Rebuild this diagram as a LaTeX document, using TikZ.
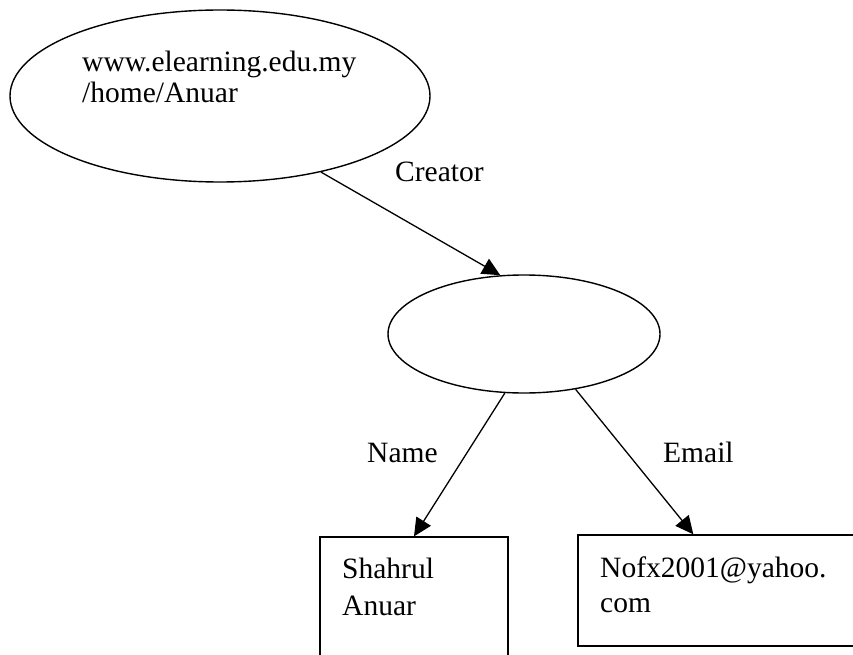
\documentclass[tikz,border=0pt]{standalone}
\usepackage{fontspec}
\setmainfont{Liberation Serif}
\usetikzlibrary{arrows.meta,shapes.geometric}

\begin{document}
\begin{tikzpicture}[
    x=1pt, y=-1pt,
    oval/.style={ellipse, draw=black, line width=1.4pt, inner sep=0pt},
    cell/.style={rectangle, draw=black, line width=1.3pt, inner sep=0pt},
    txt/.style={inner sep=0pt, align=left, font=\fontsize{29.5}{30.5}\selectfont},
    arrow/.style={line width=1.3pt, -{Triangle[length=18pt,width=17pt]}}
]
\clip (0,0) rectangle (853,655);

% Resource and blank node
\node[oval, minimum width=420pt, minimum height=172pt] (site) at (220,96) {};
\node[txt, anchor=base west] (sitetext) at (82,102.5) {www.elearning.edu.my\\/home/Anuar};
\node[oval, minimum width=272pt, minimum height=118pt] (blank) at (524,334) {};

% Literal values
\node[cell, minimum width=188pt, minimum height=143pt] (person) at (414,608.5) {};
\node[txt, anchor=base west, font=\fontsize{29.5}{37}\selectfont] (persontext) at (342,615) {Shahrul\\Anuar};
\node[cell, minimum width=322pt, minimum height=111pt] (mail) at (739,590.5) {};
\node[txt, anchor=base west, font=\fontsize{29.5}{35}\selectfont] (mailtext) at (600,612) {Nofx2001@yahoo.\\com};

% Property labels
\node[txt, anchor=base west] (creator) at (395,182) {Creator};
\node[txt, anchor=base west] (name) at (367,462) {Name};
\node[txt, anchor=base west] (email) at (663,462) {Email};

% Arcs
\draw[arrow] (site.-37) -- (blank.112);
\draw[arrow] (blank.-108) -- (person.north);
\draw[arrow] (blank.-47) -- ([xshift=116pt]mail.north west);

\end{tikzpicture}
\end{document}
